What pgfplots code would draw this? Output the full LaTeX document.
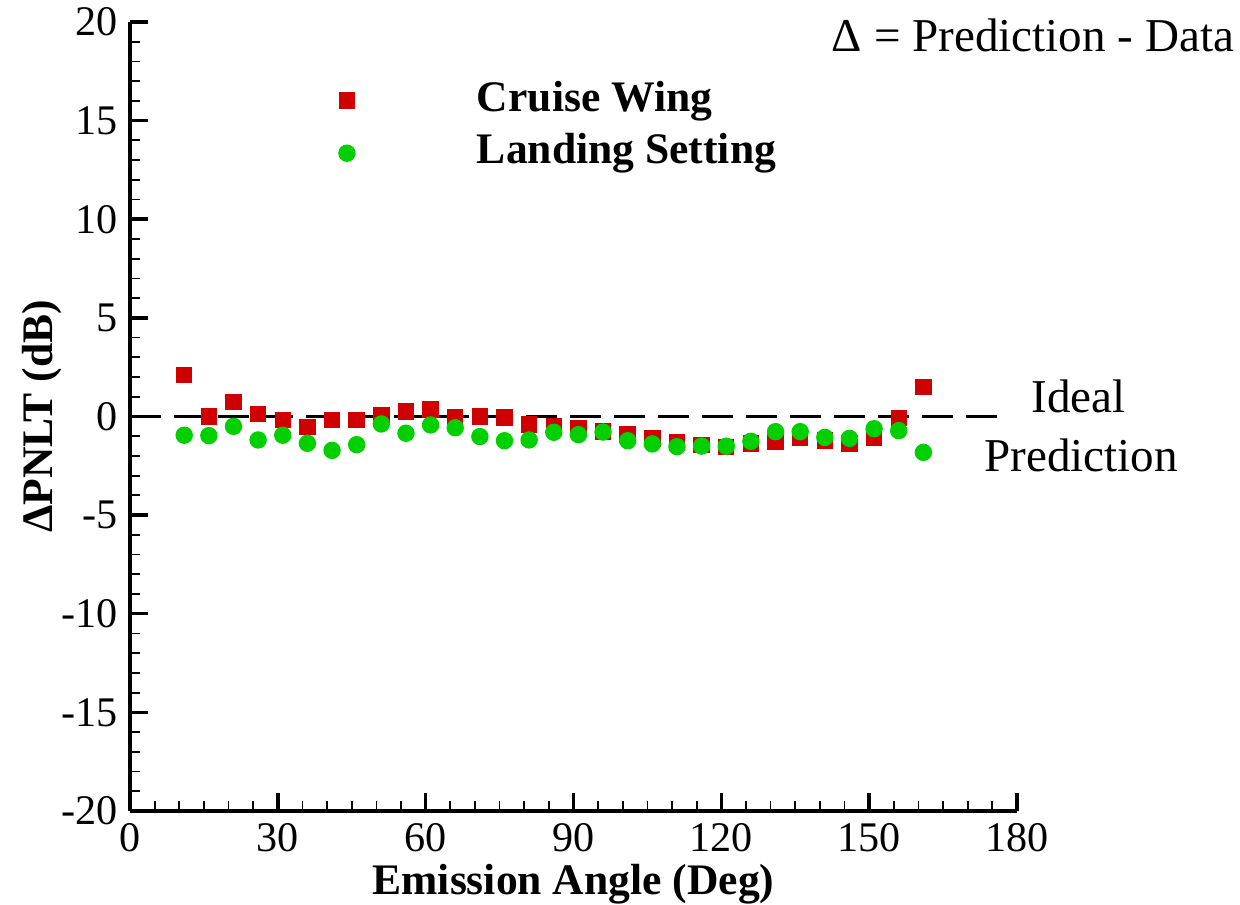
\documentclass[border=0pt]{standalone}
\usepackage{fontspec}
\setmainfont{Liberation Serif}
\usepackage{pgfplots}
\pgfplotsset{compat=1.18}
\definecolor{cruise}{RGB}{208,0,0}
\definecolor{landing}{RGB}{0,208,0}

\pgfplotsset{
  mylegend/.style={legend image code/.code={
    \path[draw=none, fill=none] (-0.1cm,-0.1cm) rectangle (1.30cm,0.1cm);
    \draw[##1] plot[mark repeat=1] coordinates {(0cm,0.02cm)};}},
}

\begin{document}
\begin{tikzpicture}
\begin{axis}[
    scale only axis,
    width=8.87cm, height=7.89cm,
    xmin=0, xmax=180, ymin=-20, ymax=20,
    axis x line=bottom, axis y line=left,
    axis line style={-, line width=0.95pt},
    xtick={0,30,...,180}, ytick={-20,-15,...,20},
    minor x tick num=5, minor y tick num=4,
    tick align=inside,
    major tick length=0.18cm, minor tick length=0.1cm,
    major tick style={line width=1pt, black},
    minor tick style={line width=0.5pt, black},
    tick label style={font=\fontsize{12}{14}\selectfont},
    /pgf/number format/assume math mode=true,
    xlabel={Emission Angle (Deg)},
    ylabel={ΔPNLT (dB)},
    label style={font=\fontsize{12.4}{15}\selectfont\bfseries},
    xlabel style={at={(axis description cs:0.5,0)}, anchor=base, yshift=-0.84cm, inner sep=0pt},
    ylabel style={at={(axis description cs:-0.0868,0.5)}, anchor=base, inner sep=0pt},
    clip=false,
    legend cell align=left,
    legend style={draw=none, fill=none, inner sep=0pt, outer sep=0pt,
        at={(axis cs:42.0,16.81)}, anchor=north west,
        row sep=5pt,
        font=\fontsize{12.4}{15}\selectfont\bfseries,
        nodes={inner sep=0pt, text height=0.75em, text depth=0.25em}},
]
\addplot[black, line width=1.1pt, dash pattern=on 0.31cm off 0.13cm, forget plot]
    coordinates {(0,0) (176,0)};

\addplot[only marks, mark=square*, mark size=0.075cm, color=cruise, mylegend] coordinates {
    (11,2.09) (16,0.00) (21,0.72) (26,0.13) (31,-0.19) (36,-0.52)
    (41,-0.19) (46,-0.19) (51,0.08) (56,0.26) (61,0.36) (66,-0.05)
    (71,0.00) (76,-0.05) (81,-0.40) (86,-0.48) (91,-0.61) (96,-0.76)
    (101,-0.91) (106,-1.12) (111,-1.32) (116,-1.46) (121,-1.56) (126,-1.36)
    (131,-1.26) (136,-1.06) (141,-1.21) (146,-1.36) (151,-1.06) (156,-0.09)
    (161,1.48)
};
\addlegendentry{Cruise Wing}

\addplot[only marks, mark=*, mark size=0.08cm, color=landing, mylegend] coordinates {
    (11,-0.95) (16,-0.97) (21,-0.50) (26,-1.19) (31,-0.95) (36,-1.36)
    (41,-1.72) (46,-1.43) (51,-0.38) (56,-0.85) (61,-0.43) (66,-0.57)
    (71,-1.02) (76,-1.23) (81,-1.19) (86,-0.80) (91,-0.92) (96,-0.79)
    (101,-1.23) (106,-1.39) (111,-1.53) (116,-1.50) (121,-1.51) (126,-1.26)
    (131,-0.77) (136,-0.77) (141,-1.06) (146,-1.11) (151,-0.62) (156,-0.72)
    (161,-1.82)
};
\addlegendentry{Landing Setting}

\node[anchor=base east, inner sep=0pt, font=\fontsize{13.4}{16}\selectfont]
    at (axis cs:224.2,18.48) {Δ = Prediction - Data};
\node[anchor=base, inner sep=0pt, font=\fontsize{13.4}{16}\selectfont]
    at (axis cs:192.5,0.18) {Ideal};
\node[anchor=base, inner sep=0pt, font=\fontsize{13.4}{16}\selectfont]
    at (axis cs:193,-2.81) {Prediction};

\coordinate (bl) at (rel axis cs:0,0);
\coordinate (tr) at (rel axis cs:1,1);
\end{axis}
\pgfresetboundingbox
\path ([shift={(-1.30cm,-0.94cm)}]bl) rectangle ([shift={(2.23cm,0.22cm)}]tr);
\end{tikzpicture}
\end{document}
